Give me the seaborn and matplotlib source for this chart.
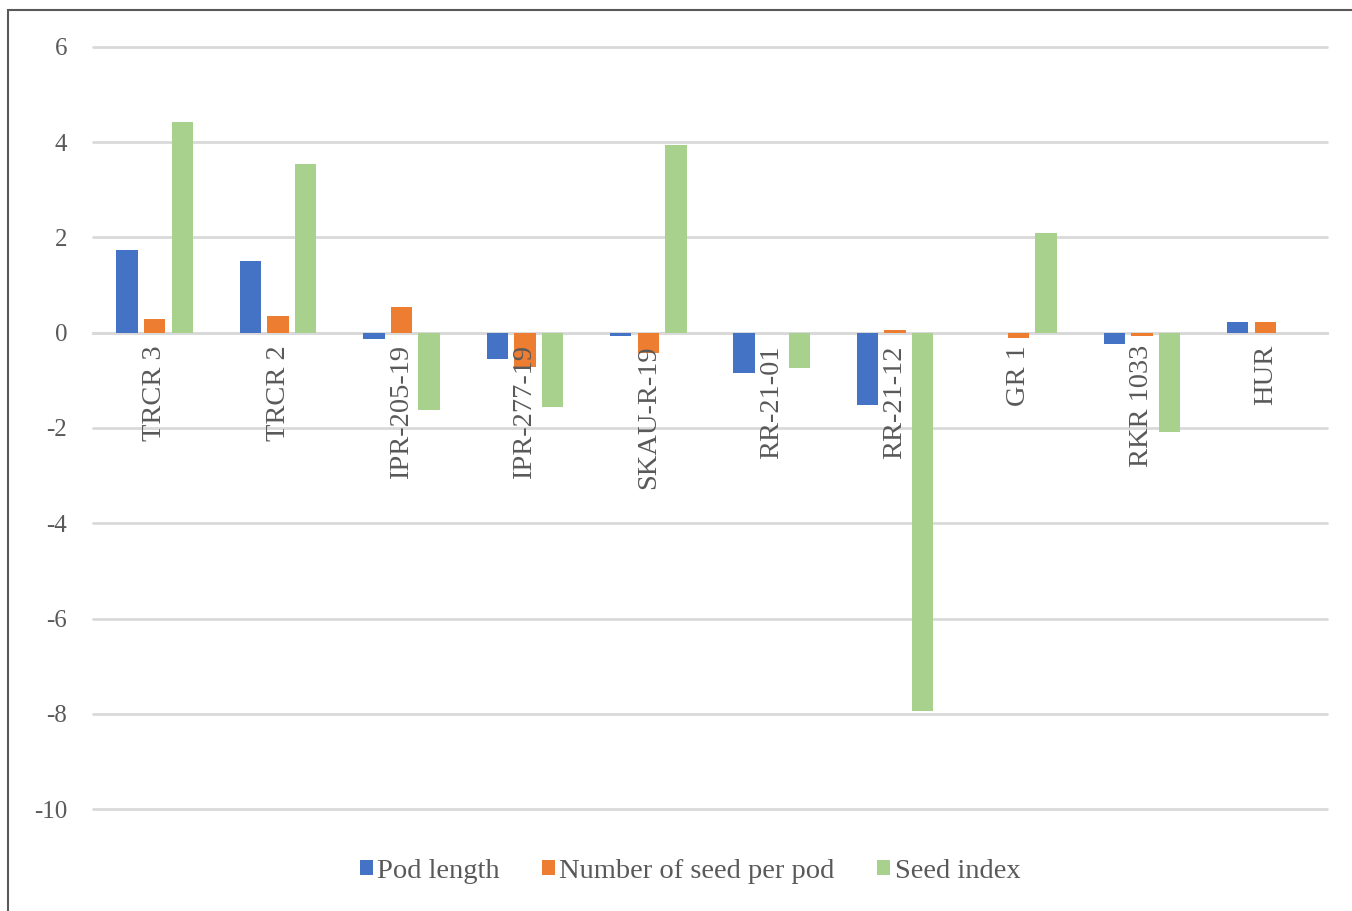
import pandas as pd
import matplotlib
matplotlib.use("Agg")
from matplotlib import pyplot as plt
from matplotlib.patches import Rectangle
import seaborn as sns

genotypes = ['TRCR 3', 'TRCR 2', 'IPR-205-19', 'IPR-277-19', 'SKAU-R-19',
             'RR-21-01', 'RR-21-12', 'GR 1', 'RKR 1033', 'HUR']
pod_length = [1.74, 1.51, -0.13, -0.55, -0.06, -0.85, -1.52, 0.0, -0.23, 0.22]
seeds_per_pod = [0.29, 0.36, 0.55, -0.72, -0.42, 0.0, 0.05, -0.10, -0.06, 0.22]
seed_index = [4.43, 3.55, -1.62, -1.55, 3.95, -0.74, -7.94, 2.10, -2.08, 0.0]
series = ['Pod length', 'Number of seed per pod', 'Seed index']
colors = ['#4472C4', '#ED7D31', '#A9D18E']
yticks = [6, 4, 2, 0, -2, -4, -6, -8, -10]

df = pd.DataFrame({'genotype': genotypes,
                   series[0]: pod_length,
                   series[1]: seeds_per_pod,
                   series[2]: seed_index})
long = df.melt(id_vars='genotype', var_name='trait', value_name='value')

sns.set_style('white')
plt.rcParams['font.family'] = ['Liberation Serif', 'DejaVu Serif']
plt.rcParams['axes.unicode_minus'] = False

fig = plt.figure(figsize=(13.52, 9.11), dpi=100)
ax = fig.add_axes([93/1352, 1 - 809/911, (1327 - 93)/1352, (809 - 47)/911])

sns.barplot(data=long, x='genotype', y='value', hue='trait', order=genotypes,
            hue_order=series, palette=colors, width=0.67, ax=ax,
            saturation=1, errorbar=None, linewidth=0)

# leave small gaps between bars in a group
for p in ax.patches:
    w = p.get_width()
    p.set_x(p.get_x() + w*0.11)
    p.set_width(w*0.78)

ax.set_ylim(-10, 6)
ax.set_yticks(yticks)
ax.set_xlim(-0.5, len(genotypes) - 0.5)
# gridlines behind the bars, tick labels in front of them
ax.set_axisbelow(False)
ax.grid(False)
for yv in yticks:
    ax.axhline(yv, color='#d9d9d9', linewidth=2, zorder=0, clip_on=False)
for s in ['top', 'right', 'left']:
    ax.spines[s].set_visible(False)
ax.spines['bottom'].set_position(('data', 0))
ax.spines['bottom'].set_color('#d9d9d9')
ax.spines['bottom'].set_linewidth(2)
ax.spines['bottom'].set_zorder(0.5)
ax.tick_params(axis='x', length=0, pad=9, labelsize=20.5, labelcolor='#595959',
               rotation=90)
ax.tick_params(axis='y', length=0, pad=18.5, labelsize=18, labelcolor='#595959')
ax.set_xlabel('')
ax.set_ylabel('')

handles, labels = ax.get_legend_handles_labels()
ax.legend(handles, labels, loc='center', bbox_to_anchor=(690/1352, 1 - 871/911),
          bbox_transform=fig.transFigure, ncol=3, frameon=False,
          handlelength=0.45, handleheight=0.45, handletextpad=0.15,
          columnspacing=1.5, prop={'size': 20.5}, labelcolor='#595959')

fig.add_artist(Rectangle((8/1352, -0.05), 1.2, 1 - 10/911 + 0.05,
                         transform=fig.transFigure, fill=False,
                         edgecolor='#595959', linewidth=1.5))

plt.savefig('out.png', dpi=100)
